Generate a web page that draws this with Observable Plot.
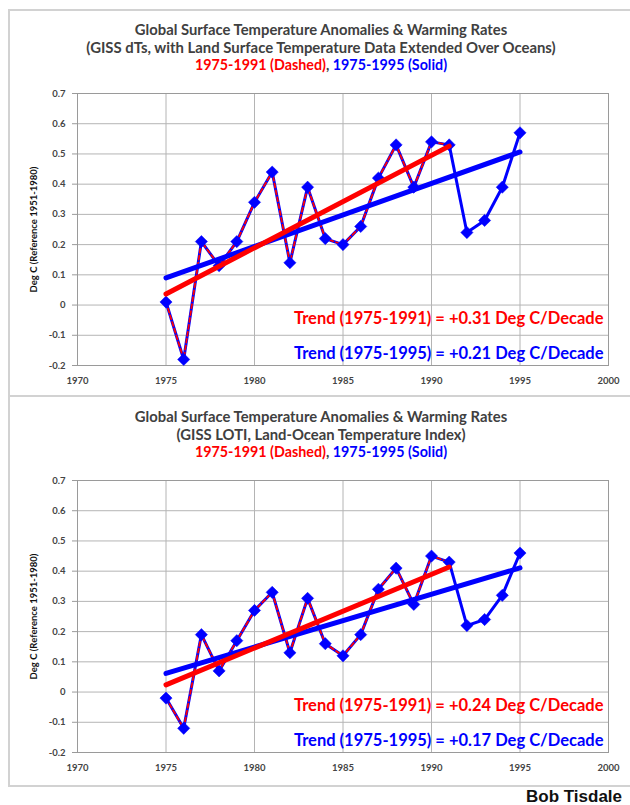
<!DOCTYPE html>
<html><head><meta charset="utf-8">
<script src="https://cdn.jsdelivr.net/npm/d3@7"></script>
<script src="https://cdn.jsdelivr.net/npm/@observablehq/plot@0.6"></script>
<style>
body{margin:0;background:#fff;}
#root{position:relative;width:630px;height:805px;overflow:hidden;background:#fff;}
.panel{position:absolute;left:8px;width:700px;border:2px solid #d2d2d2;border-right:none;box-sizing:border-box;}
.t{position:absolute;left:0;width:642px;text-align:center;font-family:Lato,sans-serif;font-weight:700;color:#404040;white-space:nowrap;line-height:17px;}
.plot{position:absolute;left:0;}
#author{position:absolute;left:526px;top:787px;font-family:"Liberation Sans",Arial,sans-serif;font-weight:700;font-size:17px;color:#111;white-space:nowrap;}
</style></head><body><div id="root"></div>
<script>
const years = [1975,1976,1977,1978,1979,1980,1981,1982,1983,1984,1985,1986,1987,1988,1989,1990,1991,1992,1993,1994,1995];
const dTs  = [0.01,-0.18,0.21,0.13,0.21,0.34,0.44,0.14,0.39,0.22,0.20,0.26,0.42,0.53,0.39,0.54,0.53,0.24,0.28,0.39,0.57];
const loti = [-0.02,-0.12,0.19,0.07,0.17,0.27,0.33,0.13,0.31,0.16,0.12,0.19,0.34,0.41,0.29,0.45,0.43,0.22,0.24,0.32,0.46];
const shortEnd = 1991;
const xTicks = [1970,1975,1980,1985,1990,1995,2000];
const yTicks = [-0.2,-0.1,0,0.1,0.2,0.3,0.4,0.5,0.6,0.7];
const mainTitle = "Global Surface Temperature Anomalies & Warming Rates";
const subTitle1 = "(GISS dTs, with Land Surface Temperature Data Extended Over Oceans)";
const subTitle2 = "(GISS LOTI, Land-Ocean Temperature Index)";
const periodShort = "1975-1991 (Dashed)";
const periodLong = "1975-1995 (Solid)";
const trendLabels1 = ["Trend (1975-1991) = +0.31 Deg C/Decade", "Trend (1975-1995) = +0.21 Deg C/Decade"];
const trendLabels2 = ["Trend (1975-1991) = +0.24 Deg C/Decade", "Trend (1975-1995) = +0.17 Deg C/Decade"];
const yLabel = "Deg C (Reference 1951-1980)";
const author = "Bob Tisdale";

const RED = "#ff0000", BLUE = "#0000ff";
const root = document.getElementById("root");

function addDiv(cls, top, html, size){
  const d = document.createElement("div");
  d.className = cls; d.style.top = top + "px"; d.innerHTML = html;
  if (size) d.style.fontSize = size + "px";
  root.appendChild(d); return d;
}

function panel(values, sub, subSize, trends, oy, boxTop, boxH){
  const box = document.createElement("div");
  box.className = "panel"; box.style.top = boxTop + "px"; box.style.height = boxH + "px";
  root.appendChild(box);
  addDiv("t", oy + 21, mainTitle, 14.8);
  addDiv("t", oy + 38.5, sub, subSize);
  addDiv("t", oy + 56, `<span style="color:${RED}">${periodShort}</span>, <span style="color:${BLUE}">${periodLong}</span>`, 14.3);
  const rows = years.map((y,i)=>({year:y, v:values[i]}));
  const short = rows.filter(d=>d.year<=shortEnd);
  const chart = Plot.plot({
    width: 630, height: 312,
    marginLeft: 77, marginRight: 22, marginTop: 10, marginBottom: 30,
    style: {fontFamily: "Lato, sans-serif", fontSize: "9.5px", fontWeight: 700, color: "#444", background: "transparent"},
    x: {domain: [1970, 2000]},
    y: {domain: [-0.2, 0.7]},
    marks: [
      Plot.gridX(xTicks, {stroke: "#b4b4b4", strokeOpacity: 1}),
      Plot.gridY(yTicks, {stroke: "#b4b4b4", strokeOpacity: 1}),
      Plot.frame({stroke: "#9a9a9a"}),
      Plot.axisX(xTicks, {tickSize: 0, tickPadding: 12, tickFormat: d => String(d), label: null, fill: "#444"}),
      Plot.axisY(yTicks, {tickSize: 5, tickPadding: 7, stroke: "#9a9a9a", tickFormat: d => d === 0 ? "0" : d.toFixed(1), label: null, fill: "#444"}),
      Plot.line(rows, {x: "year", y: "v", stroke: BLUE, strokeWidth: 3}),
      Plot.line(short, {x: "year", y: "v", stroke: RED, strokeWidth: 1.8, strokeDasharray: "4,3"}),
      Plot.dot(rows, {x: "year", y: "v", symbol: "diamond2", r: 5.5, fill: BLUE, stroke: BLUE, strokeWidth: 0.5}),
      Plot.linearRegressionY(rows, {x: "year", y: "v", stroke: BLUE, strokeWidth: 5, ci: 0}),
      Plot.linearRegressionY(short, {x: "year", y: "v", stroke: RED, strokeWidth: 5, ci: 0}),
      Plot.text([trends[0]], {frameAnchor: "bottom-right", textAnchor: "end", lineAnchor: "middle", dx: -5, dy: -47, fill: RED, fontSize: 16.5, fontWeight: 700}),
      Plot.text([trends[1]], {frameAnchor: "bottom-right", textAnchor: "end", lineAnchor: "middle", dx: -5, dy: -12, fill: BLUE, fontSize: 16.5, fontWeight: 700}),
      Plot.text([yLabel], {frameAnchor: "left", rotate: -90, textAnchor: "middle", lineAnchor: "middle", dx: -44, fill: "#111", fontSize: 9.5, fontWeight: 700})
    ]
  });
  chart.classList.add("plot");
  chart.style.position = "absolute";
  chart.style.left = "0px";
  chart.style.top = (oy + 83) + "px";
  root.appendChild(chart);
}

panel(dTs, subTitle1, 14.9, trendLabels1, 0, 9, 388);
panel(loti, subTitle2, 14.8, trendLabels2, 387, 395, 392);
addDiv("", 787, author).id = "author";
</script></body></html>
